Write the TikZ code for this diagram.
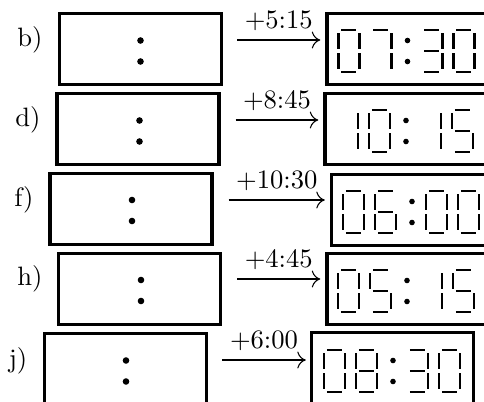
\documentclass[tikz,border=0pt]{standalone}
\usetikzlibrary{arrows.meta}
\tikzset{
  clockbox/.style={draw,line width=1.3pt,minimum width=60.9pt,minimum height=26.7pt,inner sep=0pt},
  seg/.style={line width=1.05pt},
  letter/.style={inner sep=0pt},
  tick/.style={-{Computer Modern Rightarrow[length=3.2pt,width=6.4pt]},line width=0.4pt},
  seg-a/.style={insert path={++(3,0) -- ++(15,0)}},
  seg-b/.style={insert path={++(21,3) -- ++(0,16)}},
  seg-c/.style={insert path={++(21,23) -- ++(0,16)}},
  seg-d/.style={insert path={++(3,42) -- ++(15,0)}},
  seg-e/.style={insert path={++(0,23) -- ++(0,16)}},
  seg-f/.style={insert path={++(0,3) -- ++(0,16)}},
  seg-g/.style={insert path={++(3,21) -- ++(15,0)}},
}
\def\dgzero{a,b,c,d,e,f}
\def\dgone{b,c}
\def\dgthree{a,b,g,c,d}
\def\dgfive{a,f,g,c,d}
\def\dgsix{a,f,g,e,c,d}
\def\dgseven{a,b,c}
\def\dgeight{a,b,c,d,e,f,g}
\newcommand{\segdigit}[3]{\foreach \s in #3 {\draw[seg] (#1,#2) [seg-\s];}}
\newcommand{\colondots}[2]{%
  \fill (#1,#2) ++(0,-10.5) circle (3.3);
  \fill (#1,#2) ++(0,10.5) circle (3.3);
}
\newcommand{\clockface}[6]{%
  \fill (#1,#2) ++(0,-10.5) circle (2.8);
  \fill (#1,#2) ++(0,10.5) circle (2.8);
  \segdigit{#1-69}{#2-21}{#3}
  \segdigit{#1-37}{#2-21}{#4}
  \segdigit{#1+14}{#2-21}{#5}
  \segdigit{#1+46}{#2-21}{#6}
}
\begin{document}
\begin{tikzpicture}[x=0.376pt,y=-0.376pt]
\useasboundingbox (0,0) rectangle (484,401);
\clip (0,0) rectangle (484,401);
% b)
\node[clockbox] (bl) at (140.5,49) {};
\node[clockbox] (br) at (408,49) {};
\node[letter] (bt) at (30,40) {b)};
\draw[tick] ([shift={(14,-9)}]bl.east) -- ([shift={(-5,-9)}]br.west) node[midway,above] {+5:15};
\colondots{140.5}{51}
\clockface{407.5}{51}{\dgzero}{\dgseven}{\dgthree}{\dgzero}
% d)
\node[clockbox] (dl) at (138,129) {};
\node[clockbox] (dr) at (406,129) {};
\node[letter] (dt) at (28,120) {d)};
\draw[tick] ([shift={(15,-9)}]dl.east) -- ([shift={(-5,-9)}]dr.west) node[midway,above] {+8:45};
\colondots{139.5}{131}
\clockface{406}{131}{\dgone}{\dgzero}{\dgone}{\dgfive}
% f)
\node[clockbox] (fl) at (131,209) {};
\node[clockbox] (fr) at (412.5,210) {};
\node[letter] (ft) at (24,200) {f)};
\draw[tick] ([shift={(15,-9)}]fl.east) -- ([shift={(-5,-10)}]fr.west) node[midway,above] {+10:30};
\colondots{132}{210.5}
\clockface{412}{212}{\dgzero}{\dgsix}{\dgzero}{\dgzero}
% h)
\node[clockbox] (hl) at (139.5,289) {};
\node[clockbox] (hr) at (408,289) {};
\node[letter] (ht) at (30,279) {h)};
\draw[tick] ([shift={(15,-10)}]hl.east) -- ([shift={(-5,-10)}]hr.west) node[midway,above] {+4:45};
\colondots{141}{290.5}
\clockface{407}{291}{\dgzero}{\dgfive}{\dgone}{\dgfive}
% j)
\node[clockbox] (jl) at (125.5,369) {};
\node[clockbox] (jr) at (392.5,368) {};
\node[letter] (jt) at (18,361) {j)};
\draw[tick] ([shift={(14,-9)}]jl.east) -- ([shift={(-4,-8)}]jr.west) node[midway,above] {+6:00};
\colondots{126}{371}
\clockface{393}{371}{\dgzero}{\dgeight}{\dgthree}{\dgzero}
\end{tikzpicture}
\end{document}
